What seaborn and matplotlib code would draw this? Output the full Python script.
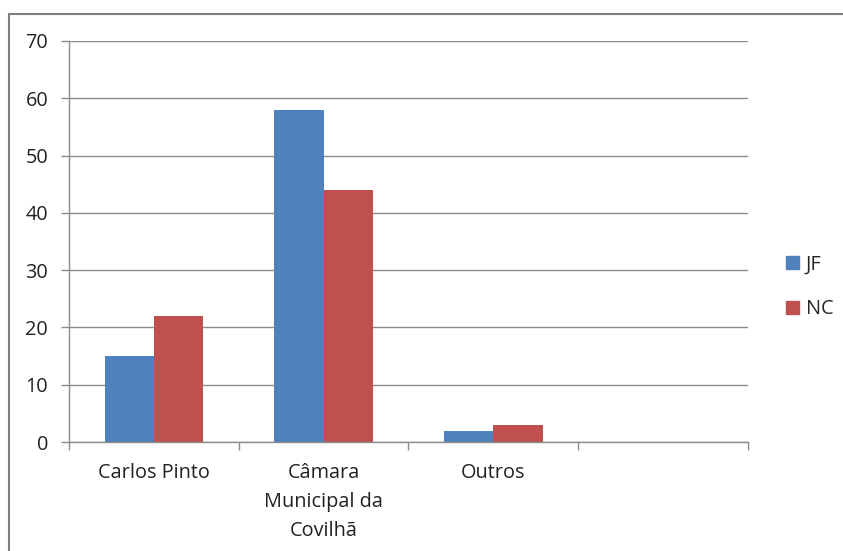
import numpy as np
import pandas as pd
import matplotlib
matplotlib.use("Agg")
import matplotlib.pyplot as plt
import seaborn as sns
from matplotlib.lines import Line2D

categories = ["Carlos Pinto", "Câmara\nMunicipal da\nCovilhã", "Outros", " "]
series_names = ["JF", "NC"]
jf_values = [15, 58, 2, np.nan]
nc_values = [22, 44, 3, np.nan]
y_ticks = [0, 10, 20, 30, 40, 50, 60, 70]
colors = ["#4F81BD", "#C0504D"]

rows = []
for c, j, n in zip(categories, jf_values, nc_values):
    rows.append({"cat": c, "serie": "JF", "val": j})
    rows.append({"cat": c, "serie": "NC", "val": n})
df = pd.DataFrame(rows)

sns.set_theme(style="white")
plt.rcParams['font.family'] = ['Open Sans', 'DejaVu Sans']

fig = plt.figure(figsize=(8.43, 5.51), dpi=100)
ax = fig.add_axes([69/843, 1 - 442/551, (748-69)/843, (442-41)/551])

sns.barplot(data=df, x="cat", y="val", hue="serie", order=categories,
            hue_order=series_names, palette=colors, width=0.58,
            saturation=1, ax=ax, legend=False, linewidth=0)

fs = 14.3
ax.set_ylim(0, 70)
ax.set_xlim(-0.5, 3.5)
ax.set_yticks(y_ticks)
ax.set_yticklabels([str(t) for t in y_ticks], fontsize=fs, color="#222222")
ax.set_xlabel("")
ax.set_ylabel("")
ax.yaxis.grid(True, color="#8c8c8c", linewidth=1.0)
ax.set_axisbelow(True)

ax.set_xticks(range(len(categories)))
ax.set_xticklabels(categories, fontsize=fs, color="#222222", linespacing=1.6)
ax.tick_params(axis="x", which="major", bottom=False, length=0, pad=15)
ax.set_xticks([-0.5, 0.5, 1.5, 2.5, 3.5], minor=True)
ax.tick_params(axis="x", which="minor", bottom=True, length=6, width=1, color="#8c8c8c", direction="out")
ax.tick_params(axis="y", which="major", left=True, length=6, width=1, color="#8c8c8c", direction="out", pad=9)
for lab in ax.get_xticklabels():
    lab.set_verticalalignment("top")

for s in ["top", "right"]:
    ax.spines[s].set_visible(False)
for s in ["left", "bottom"]:
    ax.spines[s].set_color("#8c8c8c")
    ax.spines[s].set_linewidth(1.0)

handles = [plt.Rectangle((0, 0), 1, 1, color=c) for c in colors]
fig.legend(handles, series_names, loc="center left", bbox_to_anchor=(786/843, 1 - 287/551),
           frameon=False, fontsize=fs, handlelength=0.65, handleheight=0.65,
           handletextpad=0.35, labelspacing=1.25, borderaxespad=0, borderpad=0)

# outer frame (top and left visible)
fig.add_artist(Line2D([9/843, 1.0], [1 - 14/551, 1 - 14/551], color="#7f7f7f", linewidth=1.5, transform=fig.transFigure))
fig.add_artist(Line2D([9/843, 9/843], [0, 1 - 14/551], color="#7f7f7f", linewidth=1.5, transform=fig.transFigure))

fig.savefig("out.png", dpi=100)
